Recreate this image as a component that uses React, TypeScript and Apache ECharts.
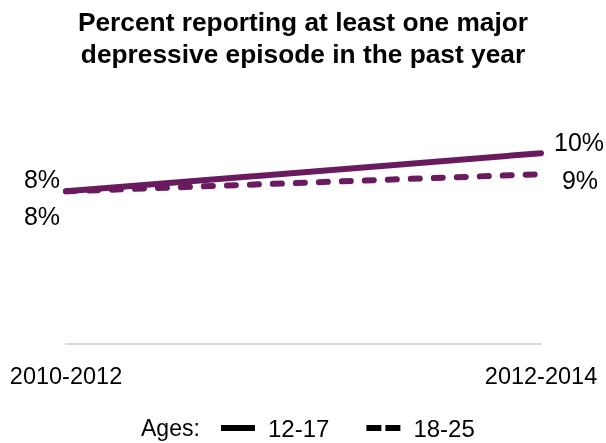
import React, { useEffect, useRef } from "react";
import * as echarts from "echarts";

const categories = ["2010-2012", "2012-2014"];
const ages1217 = [8.0, 10.0];
const ages1825 = [8.0, 8.9];
const seriesNames = ["12-17", "18-25"];
const titleText = "Percent reporting at least one major\ndepressive episode in the past year";

const FONT = "'Liberation Sans', Arial, sans-serif";
const PURPLE = "#6a1b5f";

export default function App() {
  const ref = useRef<HTMLDivElement>(null);
  useEffect(() => {
    if (!ref.current) return;
    const chart = echarts.init(ref.current, null, { renderer: "svg" });
    const fmt = (p: any) => Math.round(p.value) + "%";
    const labelBase = {
      show: true,
      position: "inside",
      align: "center",
      verticalAlign: "middle",
      color: "#000",
      fontSize: 25,
      fontFamily: FONT,
      formatter: fmt,
    };
    const offsets1 = [[-24, -12], [38, -11]];
    const offsets2 = [[-24, 25], [39, 6]];
    chart.setOption({
      animation: false,
      title: {
        text: titleText,
        left: "center",
        top: 1,
        textStyle: {
          fontSize: 26.3,
          fontWeight: "bold",
          fontFamily: FONT,
          color: "#000",
          lineHeight: 32,
        },
      },
      grid: { left: 66, right: 65, top: 115, bottom: 99, containLabel: false },
      xAxis: {
        type: "category",
        data: categories,
        boundaryGap: false,
        axisLine: { show: true, lineStyle: { color: "#d9d9d9", width: 2 } },
        axisTick: { show: false },
        axisLabel: {
          color: "#000",
          fontSize: 23.5,
          fontFamily: FONT,
          margin: 20,
        },
      },
      yAxis: {
        type: "value",
        min: 0,
        max: 12,
        show: false,
        splitLine: { show: false },
      },
      legend: {
        left: 221,
        top: 416,
        padding: 0,
        itemWidth: 34,
        itemHeight: 6,
        itemGap: 37,
        textStyle: { color: "#000", fontSize: 24, fontFamily: FONT, padding: [0, 0, 0, 8] },
        data: [
          {
            name: seriesNames[0],
            icon: "path://M0,0h34v6h-34z",
            itemStyle: { color: "#000" },
          },
          {
            name: seriesNames[1],
            icon: "path://M0,0h15v6h-15z M19,0h15v6h-15z",
            itemStyle: { color: "#000" },
          },
        ],
      },
      graphic: [
        {
          type: "text",
          left: 141,
          top: 416,
          style: { text: "Ages:", fontSize: 23, fontFamily: FONT, fill: "#000" },
        },
      ],
      series: [
        {
          name: seriesNames[0],
          type: "line",
          symbol: "circle",
          symbolSize: 1,
          itemStyle: { color: "transparent" },
          lineStyle: { color: PURPLE, width: 6, cap: "round" },
          data: ages1217.map((v, i) => ({
            value: v,
            label: { ...labelBase, offset: offsets1[i] },
          })),
        },
        {
          name: seriesNames[1],
          type: "line",
          symbol: "circle",
          symbolSize: 1,
          itemStyle: { color: "transparent" },
          lineStyle: { color: PURPLE, width: 6, type: [9, 14], cap: "round" },
          data: ages1825.map((v, i) => ({
            value: v,
            label: { ...labelBase, offset: offsets2[i] },
          })),
        },
      ],
    });
    return () => chart.dispose();
  }, []);
  return (
    <div
      ref={ref}
      style={{ position: "fixed", left: 0, top: 0, width: 606, height: 443 }}
    />
  );
}
